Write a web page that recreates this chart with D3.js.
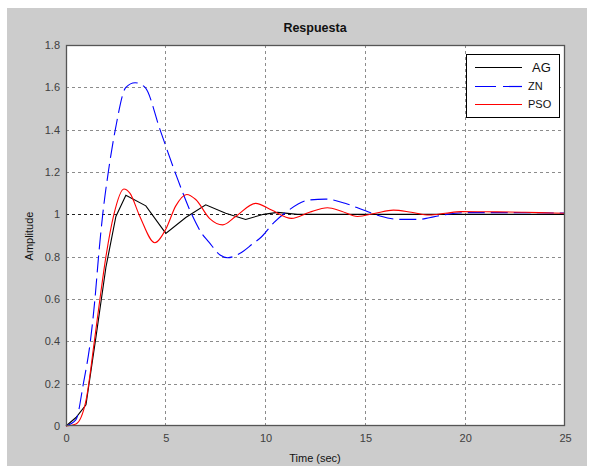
<!DOCTYPE html>
<html>
<head>
<meta charset="utf-8">
<script src="https://cdnjs.cloudflare.com/ajax/libs/d3/7.8.5/d3.min.js"></script>
<style>
  html, body { margin: 0; padding: 0; background: #ffffff; }
  svg { display: block; font-family: "Liberation Sans", Arial, sans-serif; }
</style>
</head>
<body>
<svg id="chart" width="595" height="466"></svg>
<script>
// Step responses of three tuned controllers: [time (sec), amplitude]
const agSeries = [
  [0, 0], [0.5, 0.04], [1, 0.1], [1.5, 0.42], [2, 0.75], [2.5, 0.99], [3, 1.09],
  [4, 1.04], [5, 0.91], [6, 0.985], [7, 1.045], [8, 1.005], [9, 0.976],
  [9.9, 1.0], [10.6, 1.009], [11.6, 1.0], [13, 1.0], [15, 1.0], [20, 1.0], [25, 1.0]
];
const znSeries = [
  [0, 0], [0.5, 0.03], [0.87, 0.2], [1.22, 0.4], [1.45, 0.6], [1.63, 0.8],
  [1.84, 1.0], [2.12, 1.2], [2.47, 1.4], [3.0, 1.6], [3.46, 1.622], [3.96, 1.6],
  [4.71, 1.4], [5.46, 1.2], [6.3, 1.0], [6.8, 0.91], [7.15, 0.87], [7.72, 0.808],
  [8.1, 0.795], [8.7, 0.815], [9.38, 0.863], [9.8, 0.894], [10.4, 0.96],
  [11.05, 1.012], [12.14, 1.067], [13.0, 1.072], [13.98, 1.052], [14.9, 1.02],
  [15.73, 0.992], [16.7, 0.976], [17.7, 0.976], [18.2, 0.984], [19.07, 1.0],
  [20, 1.008], [22, 1.008], [25, 1.006]
];
const psoSeries = [
  [0, 0], [0.5, 0.01], [1, 0.12], [1.42, 0.4], [1.7, 0.6], [2, 0.8], [2.4, 1.0],
  [2.9, 1.12], [3.2, 1.1], [3.7, 0.99], [4.45, 0.866], [5, 0.93], [5.5, 1.04],
  [6.05, 1.094], [6.5, 1.07], [7.2, 0.98], [7.85, 0.95], [8.5, 0.99], [9.5, 1.052],
  [10.3, 1.02], [11.3, 0.981], [12.2, 1.01], [13.1, 1.031], [13.8, 1.015],
  [14.6, 0.99], [15.5, 1.005], [16.4, 1.02], [17.3, 1.01], [18.2, 0.997],
  [19, 1.005], [19.8, 1.013], [21, 1.012], [23, 1.01], [24.4, 1.006], [25, 1.005]
];

const xTicks = [0, 5, 10, 15, 20, 25];
const yTicks = [0, 0.2, 0.4, 0.6, 0.8, 1, 1.2, 1.4, 1.6, 1.8];
const legendNames = ["AG", "ZN", "PSO"];
const chartTitle = "Respuesta";
const xTitle = "Time (sec)";
const yTitle = "Amplitude";

const svg = d3.select("#chart");
const plot = { left: 66, right: 565, top: 45, bottom: 426 };

// figure background
svg.append("rect")
  .attr("x", 7).attr("y", 8).attr("width", 580).attr("height", 458)
  .attr("fill", "#cccccc");

const x = d3.scaleLinear().domain([0, 25]).range([plot.left, plot.right]);
const y = d3.scaleLinear().domain([0, 1.8]).range([plot.bottom, plot.top]);

// axes area
svg.append("rect")
  .attr("x", plot.left).attr("y", plot.top)
  .attr("width", plot.right - plot.left).attr("height", plot.bottom - plot.top)
  .attr("fill", "#ffffff");

// grid
const grid = svg.append("g");
grid.selectAll(".gx").data(xTicks.slice(1, -1)).join("line")
  .attr("x1", d => x(d)).attr("x2", d => x(d))
  .attr("y1", plot.top).attr("y2", plot.bottom)
  .attr("stroke", "#8c8c8c").attr("stroke-width", 1)
  .attr("stroke-dasharray", "3,3").attr("shape-rendering", "crispEdges");
grid.selectAll(".gy").data(yTicks.slice(1, -1)).join("line")
  .attr("x1", plot.left).attr("x2", plot.right)
  .attr("y1", d => Math.round(y(d)) + 0.5).attr("y2", d => Math.round(y(d)) + 0.5)
  .attr("stroke", d => d === 1 ? "#222222" : "#8c8c8c").attr("stroke-width", 1)
  .attr("stroke-dasharray", "3,3");

// curves
const line = d3.line().x(d => x(d[0])).y(d => y(d[1]));
const smooth = d3.line().x(d => x(d[0])).y(d => y(d[1])).curve(d3.curveMonotoneX);
const curves = svg.append("g").attr("fill", "none").attr("stroke-width", 1.1);
curves.append("path").datum(agSeries).attr("d", line).attr("stroke", "#000000");
curves.append("path").datum(znSeries).attr("d", smooth).attr("stroke", "#0000ff")
  .attr("stroke-dasharray", "17,6");
curves.append("path").datum(psoSeries).attr("d", smooth).attr("stroke", "#ff0000");

// axes frame and tick labels
const xAxis = d3.axisBottom(x).tickValues(xTicks).tickSize(0).tickPadding(6).tickFormat(d3.format("d"));
const yAxis = d3.axisLeft(y).tickValues(yTicks).tickSize(0).tickPadding(6)
  .tickFormat(d => d === 0 || d === 1 ? String(d) : d3.format(".1f")(d));
const gx = svg.append("g").attr("transform", `translate(0,${plot.bottom})`).call(xAxis);
const gy = svg.append("g").attr("transform", `translate(${plot.left},0)`).call(yAxis);
[gx, gy].forEach(g => {
  g.select(".domain").remove();
  g.selectAll("text").attr("fill", "#404040").style("font-size", "11px");
});
gx.selectAll("text").attr("dy", "0.9em");

svg.append("rect")
  .attr("x", plot.left + 0.5).attr("y", plot.top + 0.5)
  .attr("width", plot.right - plot.left - 1).attr("height", plot.bottom - plot.top - 1)
  .attr("fill", "none").attr("stroke", "#555555").attr("stroke-width", 1.3);

// titles
svg.append("text").attr("x", 315).attr("y", 32).attr("text-anchor", "middle")
  .style("font-size", "12.5px").style("font-weight", "bold").attr("fill", "#111")
  .text(chartTitle);
svg.append("text").attr("x", 315).attr("y", 462).attr("text-anchor", "middle")
  .style("font-size", "11px").attr("fill", "#111").text(xTitle);
svg.append("text").attr("transform", "translate(33,236) rotate(-90)")
  .attr("text-anchor", "middle").style("font-size", "11px").attr("fill", "#111")
  .text(yTitle);

// legend
const legend = svg.append("g");
legend.append("rect").attr("x", 466.5).attr("y", 54.5).attr("width", 93).attr("height", 63)
  .attr("fill", "#ffffff").attr("stroke", "#000000").attr("stroke-width", 1);
const legendStyles = [
  { color: "#000000", dash: "none", size: "13px" },
  { color: "#0000ff", dash: "21,7", size: "11px" },
  { color: "#ff0000", dash: "none", size: "11px" }
];
legendNames.forEach((name, i) => {
  const ly = Math.round(67 + i * 18.5) + 0.5;
  legend.append("line").attr("x1", 475).attr("x2", 522).attr("y1", ly).attr("y2", ly)
    .style("stroke", legendStyles[i].color).style("stroke-width", "1.2px")
    .style("stroke-dasharray", legendStyles[i].dash);
  legend.append("text").attr("x", i === 0 ? 532 : 528).attr("y", ly).attr("dy", "0.36em")
    .style("font-size", legendStyles[i].size).attr("fill", "#111").text(name);
});
</script>
</body>
</html>
